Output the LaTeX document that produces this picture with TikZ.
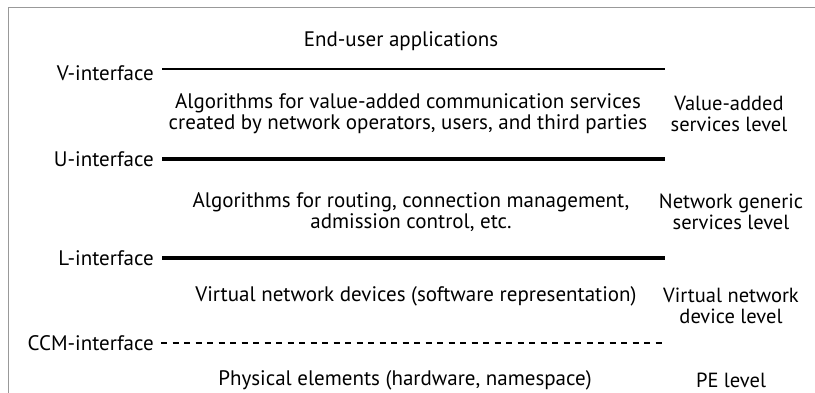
\documentclass[tikz,border=0pt]{standalone}
\usepackage{fontspec}
\setmainfont{PT Sans}
\usetikzlibrary{positioning}
\tikzstyle{iface}=[anchor=east,%
                   inner sep=0pt,%
                   font=\fontsize{21pt}{21pt}\selectfont]
\tikzstyle{layer}=[align=center, inner sep=0pt, font=\fontsize{21pt}{21pt}\selectfont]
\tikzstyle{level}=[align=center, inner sep=0pt, font=\fontsize{20.5pt}{21pt}\selectfont]
\tikzstyle{thin}=[line width=2.2pt]
\tikzstyle{thick}=[line width=4.4pt]
\tikzstyle{ccm}=[line width=1.8pt, dash pattern=on 6pt off 5.5pt]

\begin{document}
\begin{tikzpicture}[x=1pt,y=-1pt]
            \useasboundingbox (0,0) rectangle (815,393);
            \draw[gray!80, line width=1pt] (8,393) -- (8,8) -- (815,8);
            % interfaces
            \node[iface] (vif) at (154,73) {V-interface};
            \node[iface] (uif) at (154,159) {U-interface};
            \node[iface] (lif) at (154,258) {L-interface};
            \node[iface] (cif) at (154,343) {CCM-interface};
            \coordinate (vend) at (665,69);
            \coordinate (uend) at (665,159);
            \coordinate (lend) at (665,258);
            \coordinate (cend) at (665,343);
            \draw[thin]  ([xshift=8pt]vif.east |- vend) -- (vend);
            \draw[thick] ([xshift=8pt]uif.east |- uend) -- (uend);
            \draw[thick] ([xshift=8pt]lif.east |- lend) -- (lend);
            \draw[ccm]   ([xshift=7pt]cif.east |- cend) -- (cend);
            % layers
            \node[layer] (app) at (401,41) {End-user applications};
            \node[layer] (vas) at (408,114) {Algorithms for value-added communication services\\created by network operators, users, and third parties};
            \node[layer] (ngs) at (411,212) {Algorithms for routing, connection management,\\admission control, etc.};
            \node[layer] (vnd) at (416,296) {Virtual network devices (software representation)};
            \node[layer] (pe)  at (405,380) {Physical elements (hardware, namespace)};
            % levels
            \node[level] (vasl) at (729,114) {Value-added\\services level};
            \node[level] (ngsl) at (731,212) {Network generic\\services level};
            \node[level] (vndl) at (731,306) {Virtual network\\device level};
            \node[level] (pel)  at (731,380) {PE level};
\end{tikzpicture}
\end{document}
